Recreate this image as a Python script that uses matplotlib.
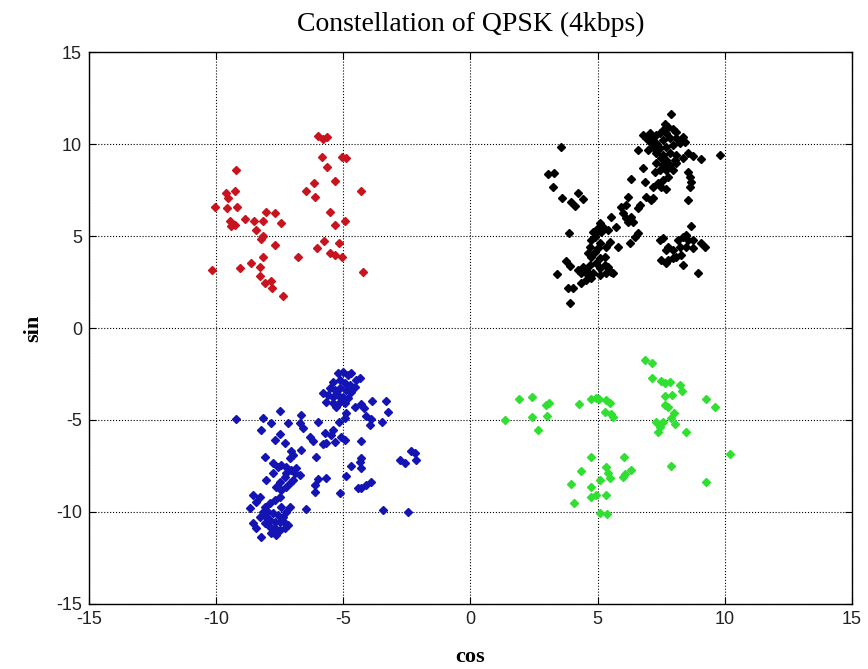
import matplotlib
matplotlib.use("Agg")
import matplotlib.pyplot as plt
import numpy as np

plt.rcParams['axes.unicode_minus'] = False

# ---- data ----
red_x = [-5.99, -5.80, -5.66, -5.82, -5.07, -4.88, -5.66, -9.20, -5.34, -6.15, -6.45, -6.12, -4.29,
         -9.60, -9.53, -9.27, -10.06, -9.56, -9.18, -8.02, -7.70, -5.53, -9.47, -9.40, -9.27, -8.88,
         -8.51, -8.16, -7.46, -5.34, -4.92, -8.44, -8.16, -8.22, -5.76, -6.02, -5.18, -7.70, -5.53,
         -5.34, -5.07, -8.16, -6.78, -10.16, -9.05, -8.64, -8.29, -4.22, -8.29, -8.09, -7.85, -7.79, -7.39]
red_y = [10.43, 10.25, 10.40, 9.31, 9.31, 9.22, 8.77, 8.59, 8.01, 7.86, 7.46, 7.14, 7.46,
         7.32, 7.05, 7.46, 6.59, 6.50, 6.56, 6.32, 6.23, 6.32, 5.83, 5.54, 5.60, 5.91,
         5.83, 5.83, 5.69, 5.60, 5.81, 5.33, 5.00, 4.82, 4.75, 4.33, 4.64, 4.49, 4.09,
         3.97, 3.84, 3.88, 3.88, 3.15, 3.28, 3.51, 3.33, 3.06, 2.83, 2.46, 2.57, 2.16, 1.76]

# black cluster, pixel-read in zoom units, converted below via axis calibration
black_zx = [455, 125, 600, 85, 102, 100, 128, 155, 165, 175, 190, 148, 113, 140, 150, 145, 160, 150, 183,
            435, 445, 430, 460, 420, 440, 470, 390, 400, 410, 380, 370, 390, 410, 430, 450, 470, 490, 480,
            495, 400, 420, 440, 460, 385, 355, 410, 430, 450, 470, 505, 520, 545, 425, 440, 465, 490, 410,
            430, 450, 470, 420, 440, 405, 460, 505, 510, 515, 512, 505, 370, 375, 335, 415, 400, 425, 440,
            430, 445,
            325, 320, 380, 395, 400, 360, 355, 305, 310, 275, 320, 335, 340, 325, 290, 265, 250, 240, 235,
            230, 245, 220, 225, 215, 355, 345, 330, 295, 270, 260, 240, 235, 210, 205, 215, 225, 240, 255,
            230, 210, 190, 200, 185, 205, 220, 240, 255, 265, 275, 280, 260, 240, 215, 200, 195, 175,
            515, 500, 490, 475, 505, 520, 545, 555, 430, 420, 445, 440, 460, 480, 500, 520, 470, 485, 460,
            445, 425, 490, 535, 440]
black_zy = [42, 140, 165, 222, 218, 262, 295, 305, 318, 280, 298, 398, 522, 482, 498, 565, 565, 610, 548,
            72, 80, 90, 88, 100, 100, 95, 100, 110, 105, 115, 105, 125, 130, 120, 115, 115, 110, 130,
            125, 140, 145, 140, 135, 150, 150, 160, 165, 160, 165, 158, 168, 178, 175, 180, 180, 175, 190,
            195, 195, 190, 210, 210, 215, 210, 215, 230, 245, 260, 300, 205, 245, 238, 250, 262, 262, 268,
            240, 230,
            290, 315, 290, 300, 295, 315, 325, 320, 340, 350, 355, 350, 365, 365, 380, 390, 380, 370, 385,
            400, 395, 395, 410, 420, 400, 410, 428, 440, 425, 440, 430, 445, 440, 460, 470, 455, 475, 470,
            490, 495, 500, 510, 520, 520, 520, 505, 495, 500, 515, 520, 520, 525, 535, 540, 515, 510,
            378, 405, 412, 420, 420, 420, 430, 440, 415, 420, 440, 450, 450, 440, 440, 445, 470, 465, 475,
            480, 480, 495, 518, 490]

blue_zx = [355, 370, 385, 395, 410, 420, 340, 360, 375, 390, 405, 330, 345, 360, 380, 395, 310, 325, 340,
           355, 370, 385, 320, 340, 360, 375, 350,
           458, 500, 380, 405, 425, 432, 440, 455, 505, 488, 450,
           50, 130, 155, 180, 205, 245, 240, 250, 295, 358, 375, 125,
           315, 340, 335, 365, 375, 270, 280, 180, 165, 195, 310, 320, 345, 425, 245, 215, 220, 210, 290,
           135, 160, 175, 185, 200, 215, 225, 240, 230, 200, 160, 195, 180, 170, 185, 200, 210, 220, 140,
           425, 420, 425, 395, 380, 320, 295, 285, 285, 360, 455, 440, 425, 415, 575, 585, 590, 540, 555,
           100, 120, 110, 90, 135, 150, 165, 180, 185, 210, 200, 130, 145, 160, 175, 190, 140, 150, 165,
           180, 195, 205, 120, 135, 150, 165, 180, 195, 155, 170, 100, 125, 110, 260, 490, 565]
blue_zy = [40, 35, 45, 40, 60, 55, 65, 60, 70, 75, 80, 85, 90, 85, 90, 95, 100, 105, 110,
           105, 110, 115, 125, 130, 125, 130, 140,
           122, 122, 158, 142, 132, 145, 168, 178, 155, 186, 196,
           178, 175, 190, 152, 190, 165, 190, 205, 186, 186, 175, 210,
           218, 210, 225, 230, 240, 230, 242, 222, 240, 250, 252, 248, 245, 242, 270, 272, 285, 295, 290,
           292, 310, 320, 315, 320, 330, 340, 345, 325, 340, 340, 350, 365, 380, 390, 380, 370, 360, 360,
           295, 305, 325, 318, 348, 355, 358, 375, 395, 400, 365, 375, 385, 385, 272, 280, 300, 300, 308,
           405, 410, 425, 445, 440, 430, 420, 410, 440, 440, 455, 455, 455, 460, 465, 470, 470, 480, 485,
           485, 490, 495, 470, 490, 500, 505, 510, 505, 520, 525, 490, 530, 505, 448, 450, 455]

green_zx = [465, 488, 488, 515, 525, 540, 572, 578, 525, 548, 650, 675, 525, 535, 552, 545, 500, 520, 510,
            505, 555, 588, 720, 545, 648,
            88, 128, 168, 178, 128, 173, 45, 145, 268, 305, 320, 328, 350, 360, 345, 365, 370,
            305, 403, 273, 350, 355, 362, 330, 405, 425, 400, 245, 305, 305, 320, 350, 252, 330, 352]
green_zy = [30, 38, 85, 92, 98, 96, 105, 123, 138, 136, 148, 172, 165, 172, 190, 205, 215, 215, 230,
            245, 222, 245, 313, 348, 396,
            148, 142, 165, 160, 200, 198, 210, 240, 162, 148, 145, 148, 150, 158, 185, 192, 200,
            322, 322, 362, 352, 368, 385, 390, 372, 360, 380, 402, 410, 442, 435, 435, 460, 488, 492]

# calibration of the zoomed reads (offset / scale of each read-out window)
def conv(zx, zy, ox, oy):
    zx = np.asarray(zx, float)
    zy = np.asarray(zy, float)
    x = (ox + zx / 3 - 470.7) / 25.43
    y = (328 - (oy + zy / 3)) / 18.4
    return x, y

black_x, black_y = conv(black_zx, black_zy, 520, 100)
blue_x, blue_y = conv(blue_zx, blue_zy, 220, 360)
green_x, green_y = conv(green_zx, green_zy, 490, 350)

ticks = [-15, -10, -5, 0, 5, 10, 15]

fig = plt.figure(figsize=(8.68, 6.69), dpi=100)
ax = fig.add_axes([0.1025, 0.0972, 0.879, 0.825])

mk = dict(marker='D', markersize=4.2, linestyle='none')
ax.plot(red_x, red_y, color='#c8141e', **mk)
ax.plot(black_x, black_y, color='black', **mk)
ax.plot(blue_x, blue_y, color='#1414b4', **mk)
ax.plot(green_x, green_y, color='#30e030', **mk)

ax.set_xlim(-15, 15)
ax.set_ylim(-15, 15)
ax.set_xticks(ticks)
ax.set_yticks(ticks)
ax.tick_params(direction='in', top=True, right=True, length=5, labelsize=13, pad=5,
               labelcolor='#222222')
for lab in ax.get_xticklabels() + ax.get_yticklabels():
    lab.set_fontfamily('Liberation Sans')
ax.grid(True, linestyle=':', color='black', linewidth=0.8)
for s in ax.spines.values():
    s.set_linewidth(1.0)

ax.set_title('Constellation of QPSK (4kbps)', fontfamily='Liberation Serif', fontsize=20, pad=15)
ax.set_xlabel('cos', fontfamily='Liberation Serif', fontsize=16, fontweight='bold', labelpad=14)
ax.set_ylabel('sin', fontfamily='Liberation Serif', fontsize=16, fontweight='bold', labelpad=9)

fig.savefig('out.png', dpi=100)
